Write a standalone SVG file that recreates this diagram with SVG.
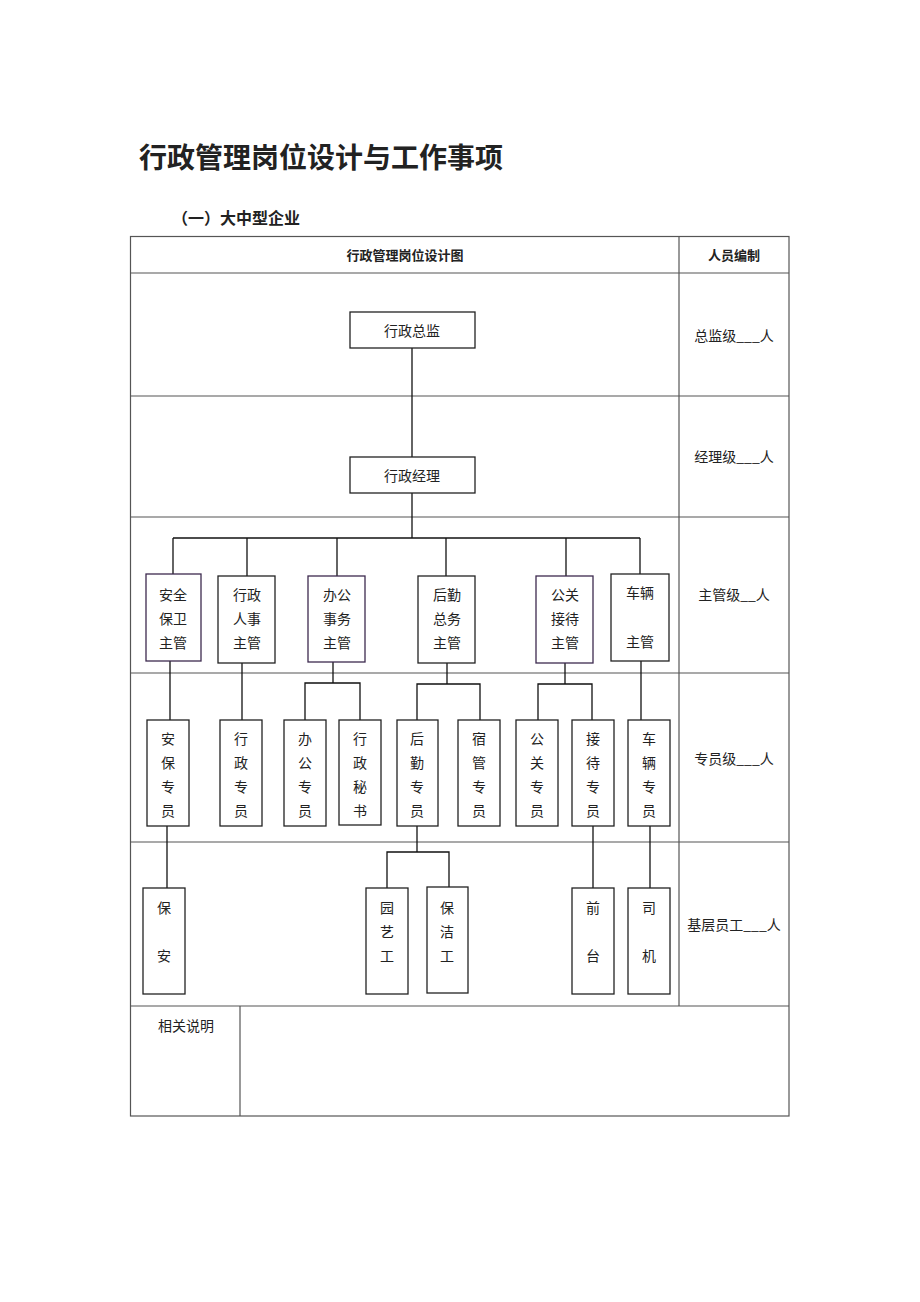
<svg xmlns="http://www.w3.org/2000/svg" width="920" height="1302" viewBox="0 0 920 1302">
<style>
text{font-family:"Noto Sans CJK SC",sans-serif;fill:#222;}
.t{font-size:14px;text-anchor:middle;dominant-baseline:central;}
.h{font-size:13px;font-weight:bold;text-anchor:middle;dominant-baseline:central;}
.grid{stroke:#555;stroke-width:1.2;fill:none;}
.box{fill:#fff;stroke:#222;stroke-width:1.3;}
.pbox{fill:#fff;stroke:#3d2a4f;stroke-width:1.3;}
.conn line,.conn path{stroke:#111;stroke-width:1.3;fill:none;}
</style>
<rect width="920" height="1302" fill="#fff"/>
<text x="139" y="156" style="font-size:28px;font-weight:bold;dominant-baseline:central;">行政管理岗位设计与工作事项</text>
<text x="172" y="217" style="font-size:16px;font-weight:bold;dominant-baseline:central;">（一）大中型企业</text>

<g id="table" class="grid">
<rect x="130.5" y="236.5" width="658.5" height="879.5"/>
<line x1="679" y1="236" x2="679" y2="1006"/>
<line x1="130" y1="273" x2="789" y2="273"/>
<line x1="130" y1="396" x2="789" y2="396"/>
<line x1="130" y1="517" x2="789" y2="517"/>
<line x1="130" y1="673" x2="789" y2="673"/>
<line x1="130" y1="842" x2="789" y2="842"/>
<line x1="130" y1="1006" x2="789" y2="1006"/>
<line x1="240" y1="1006" x2="240" y2="1116"/>
</g>
<g id="labels">
<text class="h" x="405" y="254">行政管理岗位设计图</text>
<text class="h" x="734" y="254">人员编制</text>
<text class="t" x="734" y="335">总监级___人</text>
<text class="t" x="734" y="456">经理级___人</text>
<text class="t" x="734" y="594">主管级__人</text>
<text class="t" x="734" y="758">专员级___人</text>
<text class="t" x="734" y="924">基层员工___人</text>
<text class="t" x="186" y="1025">相关说明</text>
</g>

<g class="conn" id="connectors">
<line x1="412" y1="348" x2="412" y2="457"/>
<line x1="412" y1="493" x2="412" y2="538"/>
<line x1="173" y1="538" x2="640" y2="538"/>
<line x1="173" y1="538" x2="173" y2="574"/>
<line x1="247" y1="538" x2="247" y2="576"/>
<line x1="337" y1="538" x2="337" y2="576"/>
<line x1="446" y1="538" x2="446" y2="576"/>
<line x1="566" y1="538" x2="566" y2="576"/>
<line x1="640" y1="538" x2="640" y2="574"/>
<line x1="170" y1="661" x2="170" y2="720"/>
<line x1="242" y1="662" x2="242" y2="720"/>
<line x1="333" y1="662" x2="333" y2="683"/>
<path d="M305 720 V683 H360 V720"/>
<line x1="447" y1="663" x2="447" y2="684"/>
<path d="M417 720 V684 H480 V720"/>
<line x1="565" y1="663" x2="565" y2="684"/>
<path d="M538 720 V684 H592 V720"/>
<line x1="641" y1="661" x2="641" y2="720"/>
<line x1="167" y1="826" x2="167" y2="888"/>
<line x1="417" y1="826" x2="417" y2="852"/>
<path d="M387 888 V852 H449 V887"/>
<line x1="593" y1="826" x2="593" y2="888"/>
<line x1="650" y1="826" x2="650" y2="888"/>
</g>

<g id="n-zongjian"><rect class="box" x="350" y="312" width="125" height="36"/><text class="t" x="412" y="330">行政总监</text></g>
<g id="n-jingli"><rect class="box" x="350" y="457" width="125" height="36"/><text class="t" x="412" y="475">行政经理</text></g>

<g id="n-anquan"><rect class="pbox" x="146" y="574" width="55" height="87"/><text class="t" x="173" y="594">安全</text><text class="t" x="173" y="618">保卫</text><text class="t" x="173" y="642">主管</text></g>
<g id="n-renshi"><rect class="box" x="218" y="576" width="57" height="87"/><text class="t" x="247" y="594">行政</text><text class="t" x="247" y="618">人事</text><text class="t" x="247" y="642">主管</text></g>
<g id="n-bangong"><rect class="pbox" x="308" y="576" width="57" height="86"/><text class="t" x="337" y="594">办公</text><text class="t" x="337" y="618">事务</text><text class="t" x="337" y="642">主管</text></g>
<g id="n-houqin"><rect class="box" x="418" y="576" width="57" height="87"/><text class="t" x="447" y="594">后勤</text><text class="t" x="447" y="618">总务</text><text class="t" x="447" y="642">主管</text></g>
<g id="n-gongguan"><rect class="pbox" x="536" y="576" width="57" height="87"/><text class="t" x="565" y="594">公关</text><text class="t" x="565" y="618">接待</text><text class="t" x="565" y="642">主管</text></g>
<g id="n-cheliang"><rect class="box" x="611" y="574" width="58" height="87"/><text class="t" x="640" y="592">车辆</text><text class="t" x="640" y="641">主管</text></g>

<g id="s-anbao"><rect class="box" x="147" y="720" width="42" height="106"/><text class="t" x="168" y="738">安</text><text class="t" x="168" y="762">保</text><text class="t" x="168" y="786">专</text><text class="t" x="168" y="810">员</text></g>
<g id="s-xingzheng"><rect class="box" x="220" y="720" width="42" height="106"/><text class="t" x="241" y="738">行</text><text class="t" x="241" y="762">政</text><text class="t" x="241" y="786">专</text><text class="t" x="241" y="810">员</text></g>
<g id="s-bangong"><rect class="box" x="284" y="720" width="42" height="106"/><text class="t" x="305" y="738">办</text><text class="t" x="305" y="762">公</text><text class="t" x="305" y="786">专</text><text class="t" x="305" y="810">员</text></g>
<g id="s-mishu"><rect class="box" x="339" y="720" width="42" height="105"/><text class="t" x="360" y="738">行</text><text class="t" x="360" y="762">政</text><text class="t" x="360" y="786">秘</text><text class="t" x="360" y="810">书</text></g>
<g id="s-houqin"><rect class="box" x="397" y="720" width="41" height="106"/><text class="t" x="417" y="738">后</text><text class="t" x="417" y="762">勤</text><text class="t" x="417" y="786">专</text><text class="t" x="417" y="810">员</text></g>
<g id="s-suguan"><rect class="box" x="458" y="720" width="42" height="106"/><text class="t" x="479" y="738">宿</text><text class="t" x="479" y="762">管</text><text class="t" x="479" y="786">专</text><text class="t" x="479" y="810">员</text></g>
<g id="s-gongguan"><rect class="box" x="516" y="720" width="42" height="106"/><text class="t" x="537" y="738">公</text><text class="t" x="537" y="762">关</text><text class="t" x="537" y="786">专</text><text class="t" x="537" y="810">员</text></g>
<g id="s-jiedai"><rect class="box" x="572" y="720" width="42" height="106"/><text class="t" x="593" y="738">接</text><text class="t" x="593" y="762">待</text><text class="t" x="593" y="786">专</text><text class="t" x="593" y="810">员</text></g>
<g id="s-cheliang"><rect class="box" x="628" y="720" width="42" height="106"/><text class="t" x="649" y="738">车</text><text class="t" x="649" y="762">辆</text><text class="t" x="649" y="786">专</text><text class="t" x="649" y="810">员</text></g>

<g id="b-baoan"><rect class="box" x="143" y="888" width="42" height="106"/><text class="t" x="164" y="907">保</text><text class="t" x="164" y="955">安</text></g>
<g id="b-yuanyi"><rect class="box" x="366" y="888" width="42" height="106"/><text class="t" x="387" y="907">园</text><text class="t" x="387" y="931">艺</text><text class="t" x="387" y="955">工</text></g>
<g id="b-baojie"><rect class="box" x="427" y="887" width="41" height="106"/><text class="t" x="447" y="907">保</text><text class="t" x="447" y="931">洁</text><text class="t" x="447" y="955">工</text></g>
<g id="b-qiantai"><rect class="box" x="572" y="888" width="42" height="106"/><text class="t" x="593" y="907">前</text><text class="t" x="593" y="955">台</text></g>
<g id="b-siji"><rect class="box" x="628" y="888" width="42" height="106"/><text class="t" x="649" y="907">司</text><text class="t" x="649" y="955">机</text></g>
</svg>
